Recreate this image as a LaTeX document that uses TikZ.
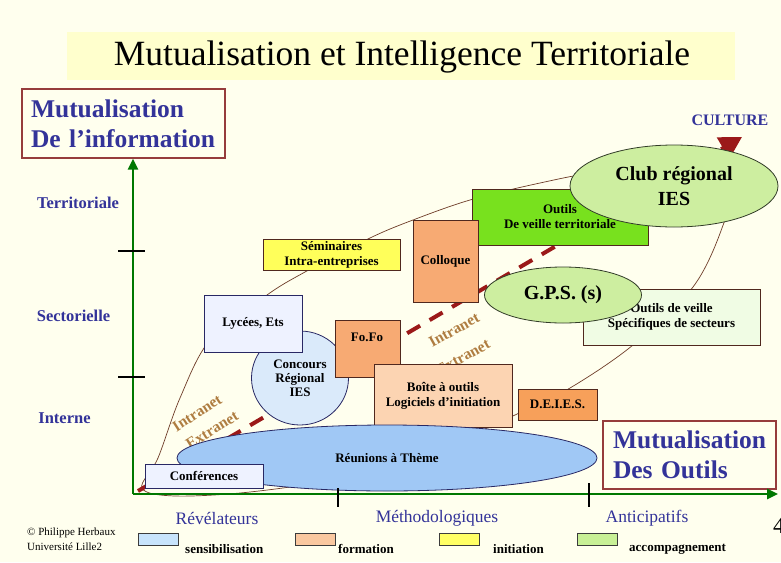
\documentclass[tikz,border=0pt]{standalone}
\usepackage{fontspec}
\setmainfont{Liberation Serif}
\usetikzlibrary{arrows.meta,shapes.geometric}
\definecolor{bgc}{RGB}{255,255,238}
\definecolor{bandc}{RGB}{255,255,205}
\definecolor{navy}{RGB}{51,51,153}
\definecolor{redline}{RGB}{150,60,60}
\definecolor{ellline}{RGB}{110,60,40}
\definecolor{boxline}{RGB}{80,40,30}
\definecolor{ovalline}{RGB}{50,60,40}
\definecolor{navyline}{RGB}{40,40,100}
\definecolor{yel}{RGB}{255,255,90}
\definecolor{ora}{RGB}{247,170,115}
\definecolor{oradk}{RGB}{247,160,90}
\definecolor{peach}{RGB}{252,212,178}
\definecolor{brgreen}{RGB}{120,225,30}
\definecolor{ltgreen}{RGB}{205,238,160}
\definecolor{vltgreen}{RGB}{240,252,228}
\definecolor{lyc}{RGB}{238,242,255}
\definecolor{conc}{RGB}{218,234,250}
\definecolor{reun}{RGB}{160,200,245}
\definecolor{legblue}{RGB}{200,228,252}
\definecolor{legora}{RGB}{250,200,160}
\definecolor{legyel}{RGB}{255,255,100}
\definecolor{leggreen}{RGB}{200,240,150}
\definecolor{legline}{RGB}{60,60,60}
\definecolor{tanc}{RGB}{175,125,65}
\definecolor{dashred}{RGB}{155,25,25}
\definecolor{axgreen}{RGB}{0,120,0}
\newcommand\bxf{\fontsize{13}{15}\selectfont\bfseries}
\tikzset{
  box/.style={draw=boxline, line width=0.8pt, inner sep=0pt, align=center, font=\bxf},
  oval/.style={ellipse, draw=ovalline, line width=0.8pt, inner sep=0pt, align=center, font=\bxf},
  axlab/.style={font=\fontsize{16.5}{18}\selectfont\bfseries, text=navy, inner sep=0pt},
  catlab/.style={font=\fontsize{17.5}{20}\selectfont, text=navy, inner sep=0pt},
  legbox/.style={draw=legline, line width=0.8pt, minimum width=40pt, minimum height=12pt, inner sep=0pt},
  legtext/.style={font=\fontsize{13}{15}\selectfont\bfseries, anchor=west, inner sep=0pt},
  intra/.style={font=\fontsize{15.5}{17}\selectfont\bfseries, text=tanc, inner sep=0pt},
  bigbox/.style={draw=redline, line width=1.2pt, fill=bgc, align=left, font=\fontsize{25.5}{30}\selectfont\bfseries, text=navy, inner xsep=9pt, inner ysep=0pt},
  axisline/.style={draw=axgreen, line width=2.5pt, -{Triangle[length=11pt,width=10pt]}},
  tickline/.style={draw=black, line width=1.6pt},
}
\begin{document}
\begin{tikzpicture}[x=1pt,y=-1pt]
\useasboundingbox (0,0) rectangle (781,562);
\fill[bgc] (0,0) rectangle (781,562);
\fill[bandc] (67,32) rectangle (735,80);
\node[font=\fontsize{35.5}{40}\selectfont, inner sep=0pt] (title) at (402,57) {Mutualisation et Intelligence Territoriale};

% big label boxes
\node[bigbox, text width=185pt, minimum height=69pt] (info) at (123.5,123.5) {Mutualisation\\De l'information};
\node[bigbox, text width=153pt, inner xsep=10pt, minimum height=68pt] (outl) at (689.5,455) {Mutualisation\\Des Outils};

% axis labels
\node[axlab] (terr) at (78,203) {Territoriale};
\node[axlab] (sect) at (73.5,316) {Sectorielle};
\node[axlab] (inte) at (64.5,418) {Interne};
\node[axlab, font=\fontsize{16}{18}\selectfont\bfseries] (cult) at (730,120) {CULTURE};
\node[catlab] (rev) at (217,518) {Révélateurs};
\node[catlab] (meth) at (437,518) {Méthodologiques};
\node[catlab] (anti) at (647,518) {Anticipatifs};

% big surrounding ellipse
\draw[ellline, line width=0.7pt] plot[smooth cycle, tension=0.55] coordinates {
 (142,488) (158,458) (180,398) (210,340) (267,295) (305,272) (370,238) (413,220)
 (470,200) (540,183) (600,172) (680,168) (728,190) (722,228) (693,287) (633,345)
 (570,388) (515,415) (440,448) (340,478) (250,492) (175,496)};

% dashed culture arrow
\coordinate (cs) at (138,491);
\coordinate (ce) at (742,137);
\draw[dashred, line width=4pt, dash pattern=on 15pt off 11pt, -{Triangle[length=22pt,width=24pt]}] (cs) -- (ce);

% intranet / extranet
\node[intra, rotate=33] (in1) at (197,413) {Intranet};
\node[intra, rotate=32] (ex1) at (212,430) {Extranet};
\node[intra, rotate=29] (in2) at (454,330) {Intranet};
\node[intra, rotate=29] (ex2) at (463,357) {Extranet};

% boxes and ovals
\node[box, fill=yel, minimum width=137pt, minimum height=31pt] (sem) at (331.5,254.5) {Séminaires\\Intra-entreprises};
\node[box, fill=brgreen, minimum width=176pt, minimum height=56pt] (outv) at (560,217) {Outils\\De veille territoriale};
\node[box, fill=ora, minimum width=65pt, minimum height=82pt] (coll) at (445.5,261) {Colloque};
\node[oval, fill=ltgreen, minimum width=208pt, minimum height=82pt, font=\fontsize{20}{25}\selectfont\bfseries] (club) at (674,186) {Club régional\\IES};
\node[box, fill=vltgreen, minimum width=177pt, minimum height=56pt] (outs) at (671.5,317) {Outils de veille\\Spécifiques de secteurs};
\node[oval, fill=ltgreen, minimum width=157pt, minimum height=56pt, font=\fontsize{20}{25}\selectfont\bfseries] (gps) at (563,295) {G.P.S. (s)};
\node[oval, draw=navyline, fill=conc, minimum width=97pt, minimum height=94pt, font=\fontsize{13}{14}\selectfont\bfseries] (conc) at (300,378) {Concours\\Régional\\IES};
\node[box, draw=navyline, fill=lyc, minimum width=98pt, minimum height=57pt] (lyc) at (253,323.5) {Lycées, Ets};
\node[box, fill=ora, minimum width=65pt, minimum height=57pt] (fofo) at (367.5,348.5) {};
\node[font=\bxf, inner sep=0pt] (fofot) at (367,337) {Fo.Fo};
\node[box, fill=peach, minimum width=138pt, minimum height=63pt] (boite) at (443,395.5) {Boîte à outils\\Logiciels d'initiation};
\node[box, fill=oradk, minimum width=79pt, minimum height=31pt] (deies) at (557.5,404.5) {D.E.I.E.S.};
\node[oval, draw=navyline, fill=reun, minimum width=420pt, minimum height=66pt] (reun) at (387,458) {Réunions à Thème};
\node[box, draw=navyline, fill=lyc, minimum width=118pt, minimum height=24pt] (conf) at (204,476) {Conférences};

% axes
\coordinate (orig) at (133,494);
\coordinate (xend) at (778,494);
\draw[axisline] (orig) -- (info.south -| orig);
\draw[axisline] (orig) -- (xend);
\draw[tickline] (118,251) -- (145,251);
\draw[tickline] (118,377) -- (145,377);
\draw[tickline] (338,488) -- (338,507);
\draw[tickline] (589,483) -- (589,507);

% legend
\node[legbox, fill=legblue] (lg1) at (158,539.5) {};
\node[legtext] (lt1) at (185,549) {sensibilisation};
\node[legbox, fill=legora] (lg2) at (315,539.5) {};
\node[legtext] (lt2) at (338,549) {formation};
\node[legbox, fill=legyel] (lg3) at (459,539.5) {};
\node[legtext] (lt3) at (493,549) {initiation};
\node[legbox, fill=leggreen] (lg4) at (597,539.5) {};
\node[legtext] (lt4) at (629,549) {accompagnement};

% credits
\node[font=\fontsize{11}{13}\selectfont, anchor=west, inner sep=0pt] (cr1) at (27,533) {© Philippe Herbaux};
\node[font=\fontsize{11}{13}\selectfont, anchor=west, inner sep=0pt] (cr2) at (27,547) {Université Lille2};
\node[font=\fontsize{23}{26}\selectfont, anchor=west, inner sep=0pt] (pnum) at (773,526) {4};
\end{tikzpicture}
\end{document}
